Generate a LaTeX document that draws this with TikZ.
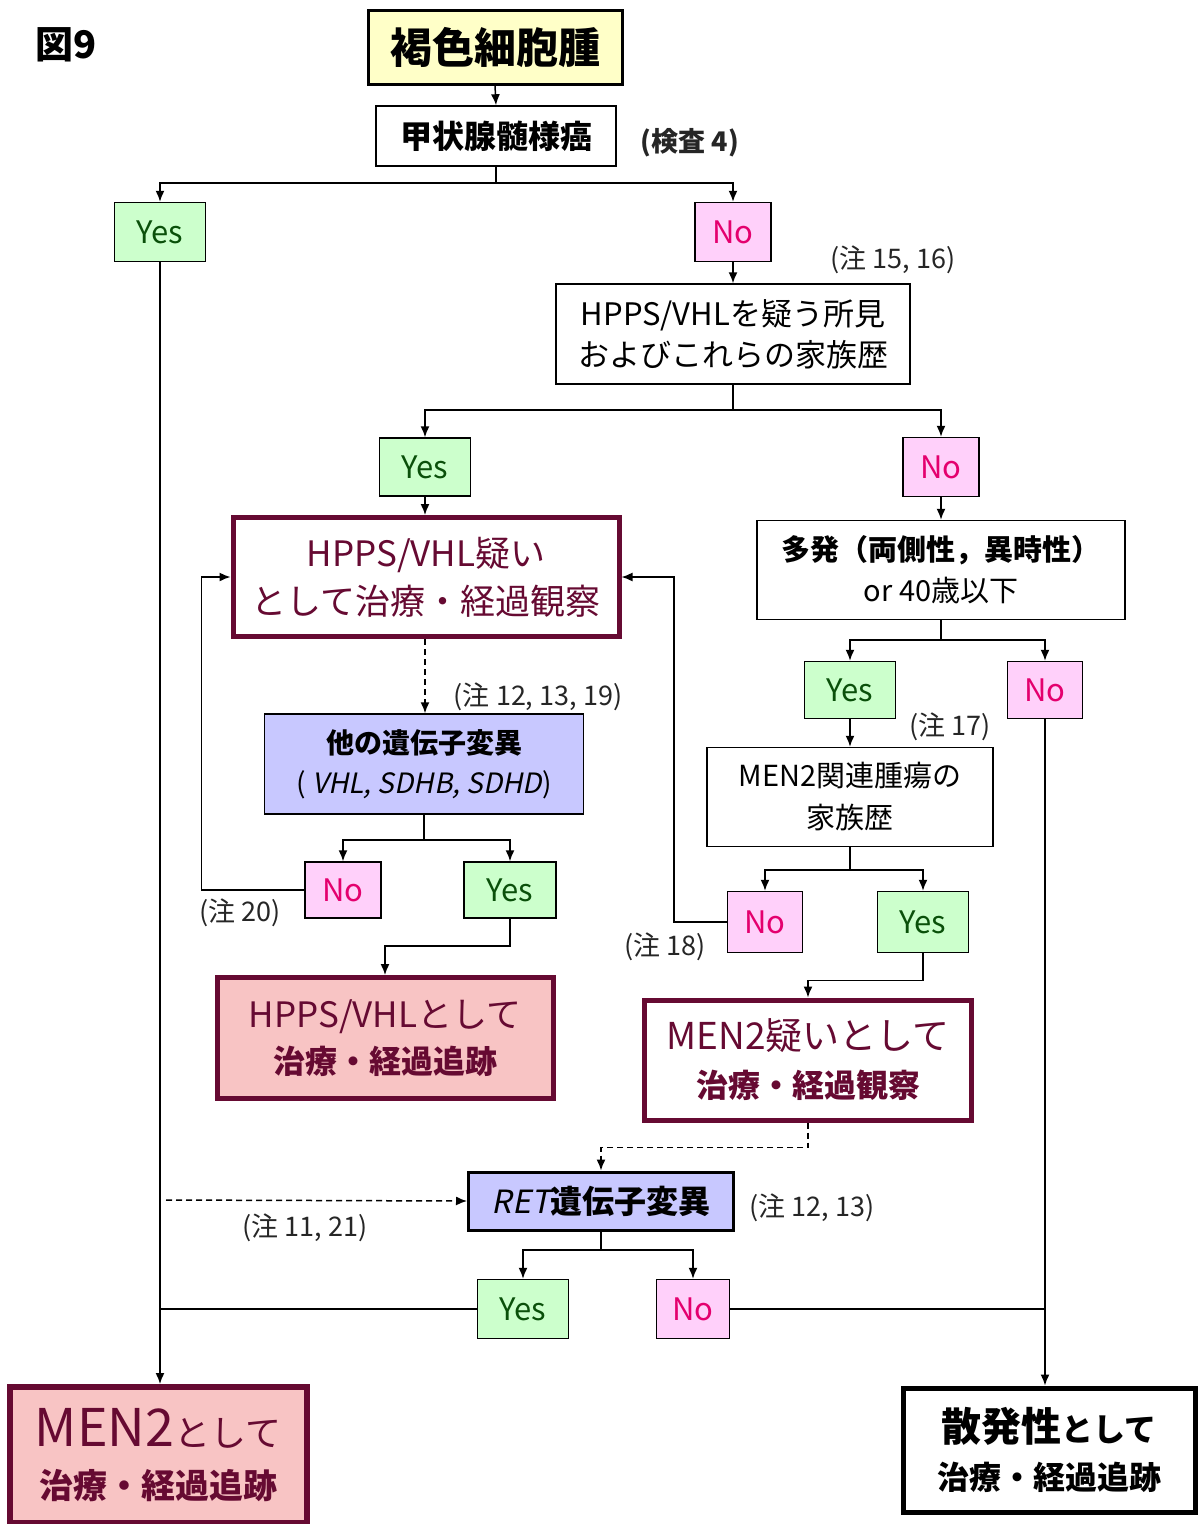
\documentclass[tikz,border=0pt]{standalone}
\usepackage{fontspec}
\setmainfont{Noto Sans CJK JP}
\newfontfamily\jpit[FakeSlant=0.2]{Noto Sans CJK JP}
\usetikzlibrary{arrows.meta}
\definecolor{yel}{RGB}{255,255,200}
\definecolor{gfill}{RGB}{204,255,204}
\definecolor{gtext}{RGB}{10,80,10}
\definecolor{pfill}{RGB}{255,208,250}
\definecolor{ptext}{RGB}{228,0,110}
\definecolor{bfill}{RGB}{200,200,255}
\definecolor{maroon}{RGB}{102,10,50}
\definecolor{salmon}{RGB}{248,196,196}
\newcommand{\fsz}[2]{\fontsize{#1}{#2}\selectfont}
\tikzset{
  box/.style={draw, line width=1.5pt, inner sep=0pt, align=center, text=black},
  yesbox/.style={box, fill=gfill, text=gtext, font=\fsz{31}{34}},
  nobox/.style={box, fill=pfill, text=ptext, font=\fsz{31}{34}},
  heavy/.style={box, draw=maroon, line width=5pt, text=maroon},
  note/.style={inner sep=0pt, font=\fsz{27}{30}, text=black!85},
  arr/.style={line width=1.5pt, -{Latex[length=11pt,width=9pt]}},
  ln/.style={line width=1.5pt},
  dsh/.style={dash pattern=on 6pt off 4pt},
}
\begin{document}
\begin{tikzpicture}[x=1pt,y=-1pt]
\useasboundingbox (0,0) rectangle (1198,1524);
\fill[white] (0,0) rectangle (1198,1524);

\node[inner sep=0pt, font=\fsz{38}{40}\bfseries] (fig) at (66,45) {図9};

\node[box, fill=yel, line width=3pt, minimum width=254pt, minimum height=74pt, font=\fsz{42}{46}\bfseries] (title) at (495,47) {褐色細胞腫};
\node[box, minimum width=240pt, minimum height=60pt, font=\fsz{32}{36}\bfseries] (thy) at (496,136) {甲状腺髄様癌};
\node[note, font=\fsz{27}{30}\bfseries] (n4) at (690,143) {(検査 4)};

\node[yesbox, minimum width=91pt, minimum height=59pt] (yes1) at (160,232) {Yes};
\node[nobox, minimum width=76pt, minimum height=59pt] (no1) at (733,232) {No};
\node[note] (n1516) at (893,260) {(注 15, 16)};

\node[box, minimum width=354pt, minimum height=100pt, font=\fsz{31}{41}] (hpps) at (733,334) {HPPS/VHLを疑う所見\\およびこれらの家族歴};

\node[yesbox, minimum width=91pt, minimum height=58pt] (yes2) at (425,467) {Yes};
\node[nobox, minimum width=76pt, minimum height=59pt] (no2) at (941,467) {No};

\node[heavy, fill=white, minimum width=386pt, minimum height=119pt, font=\fsz{35}{48}] (hppsq) at (426,577) {HPPS/VHL疑い\\として治療・経過観察};
\node[note] (n121319) at (538,697) {(注 12, 13, 19)};
\node[box, fill=bfill, minimum width=319pt, minimum height=100pt, font=\fsz{28}{40}] (other) at (424,764) {\bfseries 他の遺伝子変異\\( {\jpit VHL, SDHB, SDHD})};

\node[nobox, minimum width=76pt, minimum height=56pt] (no3) at (343,890) {No};
\node[yesbox, minimum width=92pt, minimum height=56pt] (yes3) at (510,890) {Yes};
\node[note] (n20) at (240,913) {(注 20)};

\node[heavy, fill=salmon, minimum width=336pt, minimum height=121pt, font=\fsz{35}{46}] (hvhl) at (385,1038) {HPPS/VHLとして\\{\fsz{32}{46}\bfseries 治療・経過追跡}};

\node[box, minimum width=368pt, minimum height=99pt, font=\fsz{29}{41}] (multi) at (941,570) {\bfseries 多発（両側性，異時性）\\or 40歳以下};

\node[yesbox, minimum width=91pt, minimum height=57pt] (yes4) at (850,690) {Yes};
\node[nobox, minimum width=75pt, minimum height=57pt] (no4) at (1045,690) {No};
\node[note] (n17) at (950,727) {(注 17)};

\node[box, minimum width=286pt, minimum height=99pt, font=\fsz{29}{42}] (rel) at (850,797) {MEN2関連腫瘍の\\家族歴};

\node[nobox, minimum width=75pt, minimum height=61pt] (no5) at (765,922) {No};
\node[yesbox, minimum width=91pt, minimum height=61pt] (yes5) at (923,922) {Yes};
\node[note] (n18) at (665,947) {(注 18)};

\node[heavy, fill=white, minimum width=327pt, minimum height=120pt, font=\fsz{37}{48}] (men2q) at (808,1060) {MEN2疑いとして\\{\fsz{32}{48}\bfseries 治療・経過観察}};

\node[box, fill=bfill, line width=3pt, minimum width=265pt, minimum height=58pt, font=\fsz{32}{34}] (ret) at (601,1201) {{\jpit RET}\textbf{遺伝子変異}};
\node[note] (n1213) at (812,1208) {(注 12, 13)};
\node[note] (n1121) at (305,1228) {(注 11, 21)};
\coordinate (dstart) at (166,1200);

\node[yesbox, minimum width=91pt, minimum height=59pt] (yes6) at (523,1309) {Yes};
\node[nobox, minimum width=73pt, minimum height=59pt] (no6) at (693,1309) {No};

\node[heavy, fill=salmon, line width=6pt, minimum width=297pt, minimum height=136pt, font=\fsz{34}{52}] (men2) at (158,1455) {{\fsz{52}{52}MEN2}{\fsz{36}{52}として}\\{\bfseries 治療・経過追跡}};
\node[box, line width=5pt, minimum width=292pt, minimum height=124pt, font=\fsz{32}{48}\bfseries] (spor) at (1049,1450) {{\fsz{40}{48}散発性}として\\治療・経過追跡};

% connectors
\draw[arr] (title.south) -- (thy.north);
\coordinate (j1) at (thy.south |- 0,183);
\draw[ln] (thy.south) -- (j1);
\draw[arr] (j1) -| (yes1.north);
\draw[arr] (j1) -| (no1.north);
\draw[arr] (no1.south) -- (hpps.north);
\coordinate (j2) at (hpps.south |- 0,410);
\draw[ln] (hpps.south) -- (j2);
\draw[arr] (j2) -| (yes2.north);
\draw[arr] (j2) -| (no2.north);
\draw[arr] (yes2.south) -- (yes2.south |- hppsq.north);
\draw[arr, dsh] (yes2.south |- hppsq.south) -- (yes2.south |- other.north);
\coordinate (j3) at (other.south |- 0,840);
\draw[ln] (other.south) -- (j3);
\draw[arr] (j3) -| (no3.north);
\draw[arr] (j3) -| (yes3.north);
\draw[arr] (no3.west) -- ++(-103,0) |- (hppsq.west);
\draw[arr] (yes3.south) -- ++(0,27) -| (hvhl.north);
\draw[arr] (no2.south) -- (multi.north);
\coordinate (j4) at (multi.south |- 0,640);
\draw[ln] (multi.south) -- (j4);
\draw[arr] (j4) -| (yes4.north);
\draw[arr] (j4) -| (no4.north);
\draw[arr] (yes4.south) -- (rel.north);
\coordinate (j5) at (rel.south |- 0,870);
\draw[ln] (rel.south) -- (j5);
\draw[arr] (j5) -| (no5.north);
\draw[arr] (j5) -| (yes5.north);
\draw[arr] (no5.west) -- ++(-53,0) |- (hppsq.east);
\draw[arr] (yes5.south) -- ++(0,27) -| (men2q.north);
\draw[arr, dsh] (men2q.south) -- ++(0,25) -| (ret.north);
\draw[arr, dsh] (dstart) -- (ret.west);
\coordinate (j6) at (ret.south |- 0,1250);
\draw[ln] (ret.south) -- (j6);
\draw[arr] (j6) -| (yes6.north);
\draw[arr] (j6) -| (no6.north);
\draw[arr] (yes1.south) -- (yes1.south |- men2.north);
\draw[ln] (yes6.west) -- (yes1.south |- yes6.west);
\draw[arr] (no4.south) -- (no4.south |- spor.north);
\draw[ln] (no6.east) -- (no4.south |- no6.east);
\end{tikzpicture}
\end{document}
